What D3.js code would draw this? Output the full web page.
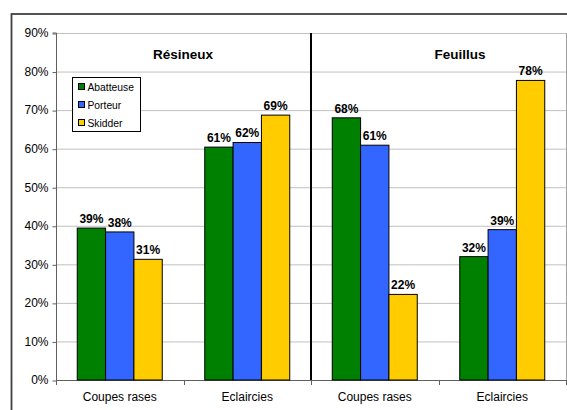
<!DOCTYPE html>
<html><head><meta charset="utf-8">
<script src="https://cdn.jsdelivr.net/npm/d3@7"></script>
<style>body{margin:0;background:#fff}svg{display:block;font-family:"Liberation Sans",Arial,sans-serif}</style>
</head><body><svg id="c" width="567" height="410"></svg>
<script>
const categories = ["Coupes rases", "Eclaircies", "Coupes rases ", "Eclaircies "];
const categoryLabels = ["Coupes rases", "Eclaircies", "Coupes rases", "Eclaircies"];
const series = ["Abatteuse", "Porteur", "Skidder"];
const abatteuse = [39.4, 60.4, 68.0, 32.0];
const porteur = [38.4, 61.6, 60.9, 39.0];
const skidder = [31.3, 68.7, 22.2, 77.7];
const labelsAbatteuse = ["39%", "61%", "68%", "32%"];
const labelsPorteur = ["38%", "62%", "61%", "39%"];
const labelsSkidder = ["31%", "69%", "22%", "78%"];
const yTicks = [0, 10, 20, 30, 40, 50, 60, 70, 80, 90];
const groupTitles = ["Résineux", "Feuillus"];
const colors = ["#008000", "#3366FF", "#FFCC00"];

const svg = d3.select("#c");
const pLeft = 56, pRight = 566, pTop = 33, pBottom = 380;

// outer frame
svg.append("rect").attr("x", 11.5).attr("y", 14).attr("width", 600).attr("height", 450)
  .attr("fill", "none").attr("stroke", "#404040").attr("stroke-width", 1.8);

const x = d3.scaleBand().domain(categories).range([pLeft, pRight]).paddingInner(0).paddingOuter(0);
const y = d3.scaleLinear().domain([0, 90]).range([pBottom, pTop]);
const bw = x.bandwidth() / 4.5;
const xs = d3.scaleBand().domain(series).range([bw * 0.75, bw * 0.75 + bw * 3]);

// gridlines
svg.append("g").selectAll("line").data(yTicks.filter(d => d > 0)).join("line")
  .attr("x1", pLeft).attr("x2", pRight).attr("y1", d => y(d) + 0.5).attr("y2", d => y(d) + 0.5)
  .attr("stroke", "#c0c0c0").attr("stroke-width", 1);
// plot border right
svg.append("line").attr("x1", pRight + 0.5).attr("x2", pRight + 0.5).attr("y1", pTop).attr("y2", pBottom)
  .attr("stroke", "#a0a0a0");

// y axis
const ya = svg.append("g").attr("transform", `translate(${pLeft + 0.5},0)`)
  .call(d3.axisLeft(y).tickValues(yTicks).tickFormat(d => d + "%").tickSize(4).tickPadding(4));
ya.select(".domain").attr("stroke", "#606060").attr("d", `M-4,${pTop}H0V${pBottom}`);
ya.selectAll(".tick line").attr("stroke", "#606060").attr("transform", "translate(0,0.5)");
ya.selectAll("text").attr("font-size", 12).attr("fill", "#000").attr("font-family", "Liberation Sans, Arial, sans-serif");

// x axis
const xa = svg.append("g").attr("transform", `translate(0,${pBottom + 0.5})`)
  .call(d3.axisBottom(x).tickSize(0).tickPadding(12).tickFormat((d, i) => categoryLabels[i]));
xa.select(".domain").attr("stroke", "#606060").attr("d", `M${pLeft},0H${pRight}`);
xa.selectAll("text").attr("font-size", 12).attr("fill", "#000").attr("font-family", "Liberation Sans, Arial, sans-serif");
const boundaries = categories.map(c => x(c)).concat([pRight]);
svg.append("g").selectAll("line").data(boundaries).join("line")
  .attr("x1", d => Math.round(d) + 0.5).attr("x2", d => Math.round(d) + 0.5)
  .attr("y1", pBottom).attr("y2", pBottom + 5).attr("stroke", "#606060");

// bars
const vals = [abatteuse, porteur, skidder];
const labs = [labelsAbatteuse, labelsPorteur, labelsSkidder];
series.forEach((s, si) => {
  const g = svg.append("g");
  g.selectAll("rect").data(categories).join("rect")
    .attr("x", c => x(c) + xs(s)).attr("width", xs.bandwidth())
    .attr("y", (c, i) => y(vals[si][i])).attr("height", (c, i) => pBottom - y(vals[si][i]))
    .attr("fill", colors[si]).attr("stroke", "#000").attr("stroke-width", 1);
  g.selectAll("text").data(categories).join("text")
    .attr("x", c => x(c) + xs(s) + xs.bandwidth() / 2)
    .attr("y", (c, i) => y(vals[si][i]) - 5)
    .attr("text-anchor", "middle").attr("font-size", 12).attr("font-weight", "bold")
    .text((c, i) => labs[si][i]);
});

// separator
svg.append("line").attr("x1", x(categories[2])).attr("x2", x(categories[2]))
  .attr("y1", pTop).attr("y2", pBottom).attr("stroke", "#000").attr("stroke-width", 2);

// group titles
svg.selectAll(".gt").data(groupTitles).join("text").attr("class", "gt")
  .attr("x", (d, i) => i === 0 ? 183 : 460).attr("y", 59)
  .attr("text-anchor", "middle").attr("font-size", 13.5).attr("font-weight", "bold").text(d => d);

// legend
const lg = svg.append("g").attr("transform", "translate(72.5,77.5)");
lg.append("rect").attr("width", 68).attr("height", 54).attr("fill", "#fff").attr("stroke", "#000");
series.forEach((s, i) => {
  lg.append("rect").attr("x", 6).attr("y", 6 + i * 18).attr("width", 6).attr("height", 6)
    .attr("fill", colors[i]).attr("stroke", "#000");
  lg.append("text").attr("x", 15).attr("y", 13 + i * 18).attr("font-size", 10.3).text(s);
});
</script></body></html>
